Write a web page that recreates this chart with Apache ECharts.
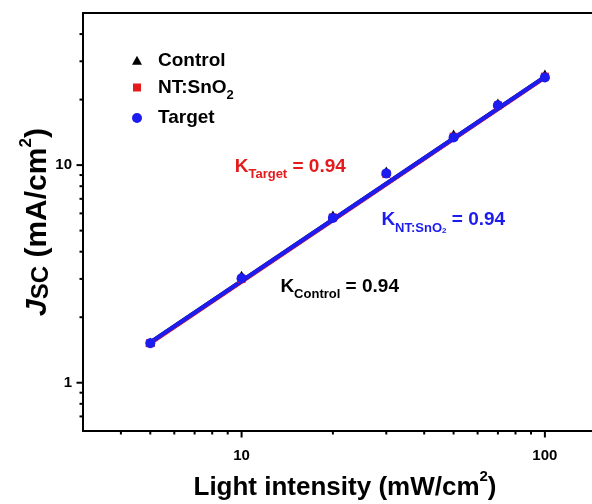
<!DOCTYPE html>
<html><head><meta charset="utf-8">
<script src="https://cdn.jsdelivr.net/npm/echarts@6/dist/echarts.min.js"></script>
<style>html,body{margin:0;padding:0;background:#fff}#c{width:592px;height:504px}</style>
</head><body><div id="c"></div>
<script>
// ---- data ----
const intensity = [5, 10, 20, 30, 50, 70, 100];
const jscControl = [1.54, 3.12, 5.9, 9.4, 13.9, 19.3, 26.2];
const jscNT = [1.52, 3.0, 5.75, 9.1, 13.5, 18.8, 25.5];
const jscTarget = [1.52, 3.02, 5.72, 9.16, 13.4, 18.85, 25.3];
const fitX = [5, 100];
const fitControl = [1.53, 25.4];
const fitNT = [1.515, 25.25];
const fitTarget = [1.53, 25.4];
const xTicksMajor = [10, 100];
const xTicksMinor = [4, 5, 6, 7, 8, 9, 20, 30, 40, 50, 60, 70, 80, 90];
const yTicksMajor = [1, 10];
const yTicksMinor = [0.7, 0.8, 0.9, 2, 3, 4, 5, 6, 7, 8, 9, 20, 30, 40];
const xRange = [3, 143];
const yRange = [0.6, 50];

const FONT = 'Liberation Sans, Arial, Helvetica, sans-serif';
const RED = '#e41a1c', BLUE = '#1c1cf0', BLACK = '#000000';

const zip = (xs, ys) => xs.map((x, i) => [x, ys[i]]);
const MAJ = 6.5, MIN = 3.5;
const xTickData = xTicksMajor.map(v => [v, yRange[0], MAJ]).concat(xTicksMinor.map(v => [v, yRange[0], MIN]));
const yTickData = yTicksMajor.map(v => [xRange[0], v, MAJ]).concat(yTicksMinor.map(v => [xRange[0], v, MIN]));

function tickSeries(data, dir) {
  return {
    type: 'custom', silent: true, clip: false, z: 10, data: data,
    renderItem: function (params, api) {
      const p = api.coord([api.value(0), api.value(1)]);
      const len = api.value(2);
      const shape = dir === 'x'
        ? { x1: p[0], y1: p[1], x2: p[0], y2: p[1] + len }
        : { x1: p[0], y1: p[1], x2: p[0] - len, y2: p[1] };
      return { type: 'line', shape: shape, style: { stroke: '#000', lineWidth: 2 } };
    }
  };
}

function powLabel(v) {
  const l = Math.log10(v);
  return Math.abs(l - Math.round(l)) < 1e-6 ? String(Math.round(Math.pow(10, Math.round(l)) * 1e6) / 1e6) : '';
}

const legendBase = {
  orient: 'vertical', padding: 0, itemGap: 0, selectedMode: false,
  textStyle: { fontFamily: FONT, fontSize: 19, fontWeight: 'bold', color: '#000', lineHeight: 20,
    rich: { n: { fontFamily: FONT, fontSize: 19, fontWeight: 'bold', color: '#000', lineHeight: 20 },
            sub: { fontFamily: FONT, fontSize: 13, fontWeight: 'bold', color: '#000', lineHeight: 12, padding: [16, 0, 0, 0] } } }
};

const chart = echarts.init(document.getElementById('c'), null, { renderer: 'canvas' });
const annRich = (color) => ({
  k: { fontFamily: FONT, fontSize: 19, fontWeight: 'bold', fill: color, lineHeight: 22 },
  s: { fontFamily: FONT, fontSize: 13, fontWeight: 'bold', fill: color, lineHeight: 12, padding: [16, 0, 0, 0] },
  ss: { fontFamily: FONT, fontSize: 8, fontWeight: 'bold', fill: color, lineHeight: 8, padding: [22, 0, 0, 0] }
});

chart.setOption({
  animation: false,
  backgroundColor: '#fff',
  grid: { left: 83, top: 13, right: 0, bottom: 73, containLabel: false, outerBoundsMode: 'none' },
  xAxis: [{
    type: 'log', logBase: 10, min: xRange[0], max: xRange[1], position: 'bottom',
    axisLine: { show: true, lineStyle: { color: '#000', width: 2 } },
    axisTick: { show: false }, splitLine: { show: false }, minorTick: { show: false },
    axisLabel: { formatter: powLabel, margin: 17, fontFamily: FONT, fontSize: 15, fontWeight: 'bold', color: '#000', lineHeight: 15 },
    name: '{m|Light intensity (mW/cm}{sup|2}{m|)}', nameLocation: 'middle', nameGap: 42, nameMoveOverlap: false,
    nameTextStyle: { fontFamily: FONT, fontSize: 26, fontWeight: 'bold', color: '#000', padding: [0, 0, 0, 15],
      rich: { m: { fontFamily: FONT, fontSize: 26, fontWeight: 'bold', color: '#000', lineHeight: 30 },
              sup: { fontFamily: FONT, fontSize: 15, fontWeight: 'bold', color: '#000', lineHeight: 15, padding: [0, 0, 22, 0] } } }
  }, {
    type: 'log', logBase: 10, min: xRange[0], max: xRange[1], position: 'top',
    axisLine: { show: true, lineStyle: { color: '#000', width: 2 } },
    axisTick: { show: false }, axisLabel: { show: false }, splitLine: { show: false }
  }],
  yAxis: [{
    type: 'log', logBase: 10, min: yRange[0], max: yRange[1],
    axisLine: { show: true, lineStyle: { color: '#000', width: 2 } },
    axisTick: { show: false }, splitLine: { show: false }, minorTick: { show: false },
    axisLabel: { formatter: powLabel, margin: 11, fontFamily: FONT, fontSize: 15, fontWeight: 'bold', color: '#000' },
    name: '{j|J}{sub|SC}{m| (mA/cm}{sup|2}{m|)}', nameLocation: 'middle', nameGap: 29, nameMoveOverlap: false,
    nameTextStyle: { fontFamily: FONT, fontSize: 30, fontWeight: 'bold', color: '#000',
      rich: { j: { fontFamily: FONT, fontSize: 30, fontWeight: 'bold', fontStyle: 'italic', color: '#000', lineHeight: 32 },
              m: { fontFamily: FONT, fontSize: 30, fontWeight: 'bold', color: '#000', lineHeight: 32 },
              sub: { fontFamily: FONT, fontSize: 24, fontWeight: 'bold', color: '#000', lineHeight: 24, padding: [6, 0, 0, 0] },
              sup: { fontFamily: FONT, fontSize: 17, fontWeight: 'bold', color: '#000', lineHeight: 17, padding: [0, 0, 24, 0] } } }
  }],
  legend: [
    Object.assign({}, legendBase, { left: 132, top: 50.3, itemWidth: 10, itemHeight: 9,
      data: [{ name: 'Control', icon: 'triangle' }],
      textStyle: Object.assign({}, legendBase.textStyle, { padding: [0, 0, 0, 11] }) }),
    Object.assign({}, legendBase, { left: 133, top: 73, itemWidth: 8, itemHeight: 8,
      data: [{ name: 'NT:SnO2', icon: 'rect' }],
      formatter: () => '{n|NT:SnO}{sub|2}',
      textStyle: Object.assign({}, legendBase.textStyle, { padding: [0, 0, 0, 12] }) }),
    Object.assign({}, legendBase, { left: 132, top: 108, itemWidth: 10, itemHeight: 10,
      data: [{ name: 'Target', icon: 'circle' }],
      textStyle: Object.assign({}, legendBase.textStyle, { padding: [0, 0, 0, 11] }) })
  ],
  graphic: [
    { type: 'text', left: 234.7, top: 152, z: 100,
      style: { text: '{k|K}{s|Target}{k| = 0.94}', rich: annRich(RED), fill: RED } },
    { type: 'text', left: 381.4, top: 205, z: 100,
      style: { text: '{k|K}{s|NT:SnO}{ss|2}{k| = 0.94}', rich: annRich(BLUE), fill: BLUE } },
    { type: 'text', left: 280.4, top: 272, z: 100,
      style: { text: '{k|K}{s|Control}{k| = 0.94}', rich: annRich(BLACK), fill: BLACK } }
  ],
  series: [
    { name: 'fitControl', type: 'line', data: zip(fitX, fitControl), showSymbol: false, symbol: 'none',
      lineStyle: { color: BLACK, width: 4 }, itemStyle: { color: BLACK }, z: 2, silent: true },
    { name: 'fitNT', type: 'line', data: zip(fitX, fitNT), showSymbol: false, symbol: 'none',
      lineStyle: { color: RED, width: 4 }, itemStyle: { color: RED }, z: 2, silent: true },
    { name: 'fitTarget', type: 'line', data: zip(fitX, fitTarget), showSymbol: false, symbol: 'none',
      lineStyle: { color: BLUE, width: 4 }, itemStyle: { color: BLUE }, z: 2, silent: true },
    { name: 'Control', type: 'scatter', data: zip(intensity, jscControl), symbol: 'triangle', symbolSize: [10, 9],
      itemStyle: { color: BLACK, opacity: 1 }, z: 3 },
    { name: 'NT:SnO2', type: 'scatter', data: zip(intensity, jscNT), symbol: 'rect', symbolSize: 8,
      itemStyle: { color: RED, opacity: 1 }, z: 3 },
    { name: 'Target', type: 'scatter', data: zip(intensity, jscTarget), symbol: 'circle', symbolSize: 10,
      itemStyle: { color: BLUE, opacity: 1 }, z: 3 },
    tickSeries(xTickData, 'x'),
    tickSeries(yTickData, 'y')
  ]
});
</script>
</body></html>
